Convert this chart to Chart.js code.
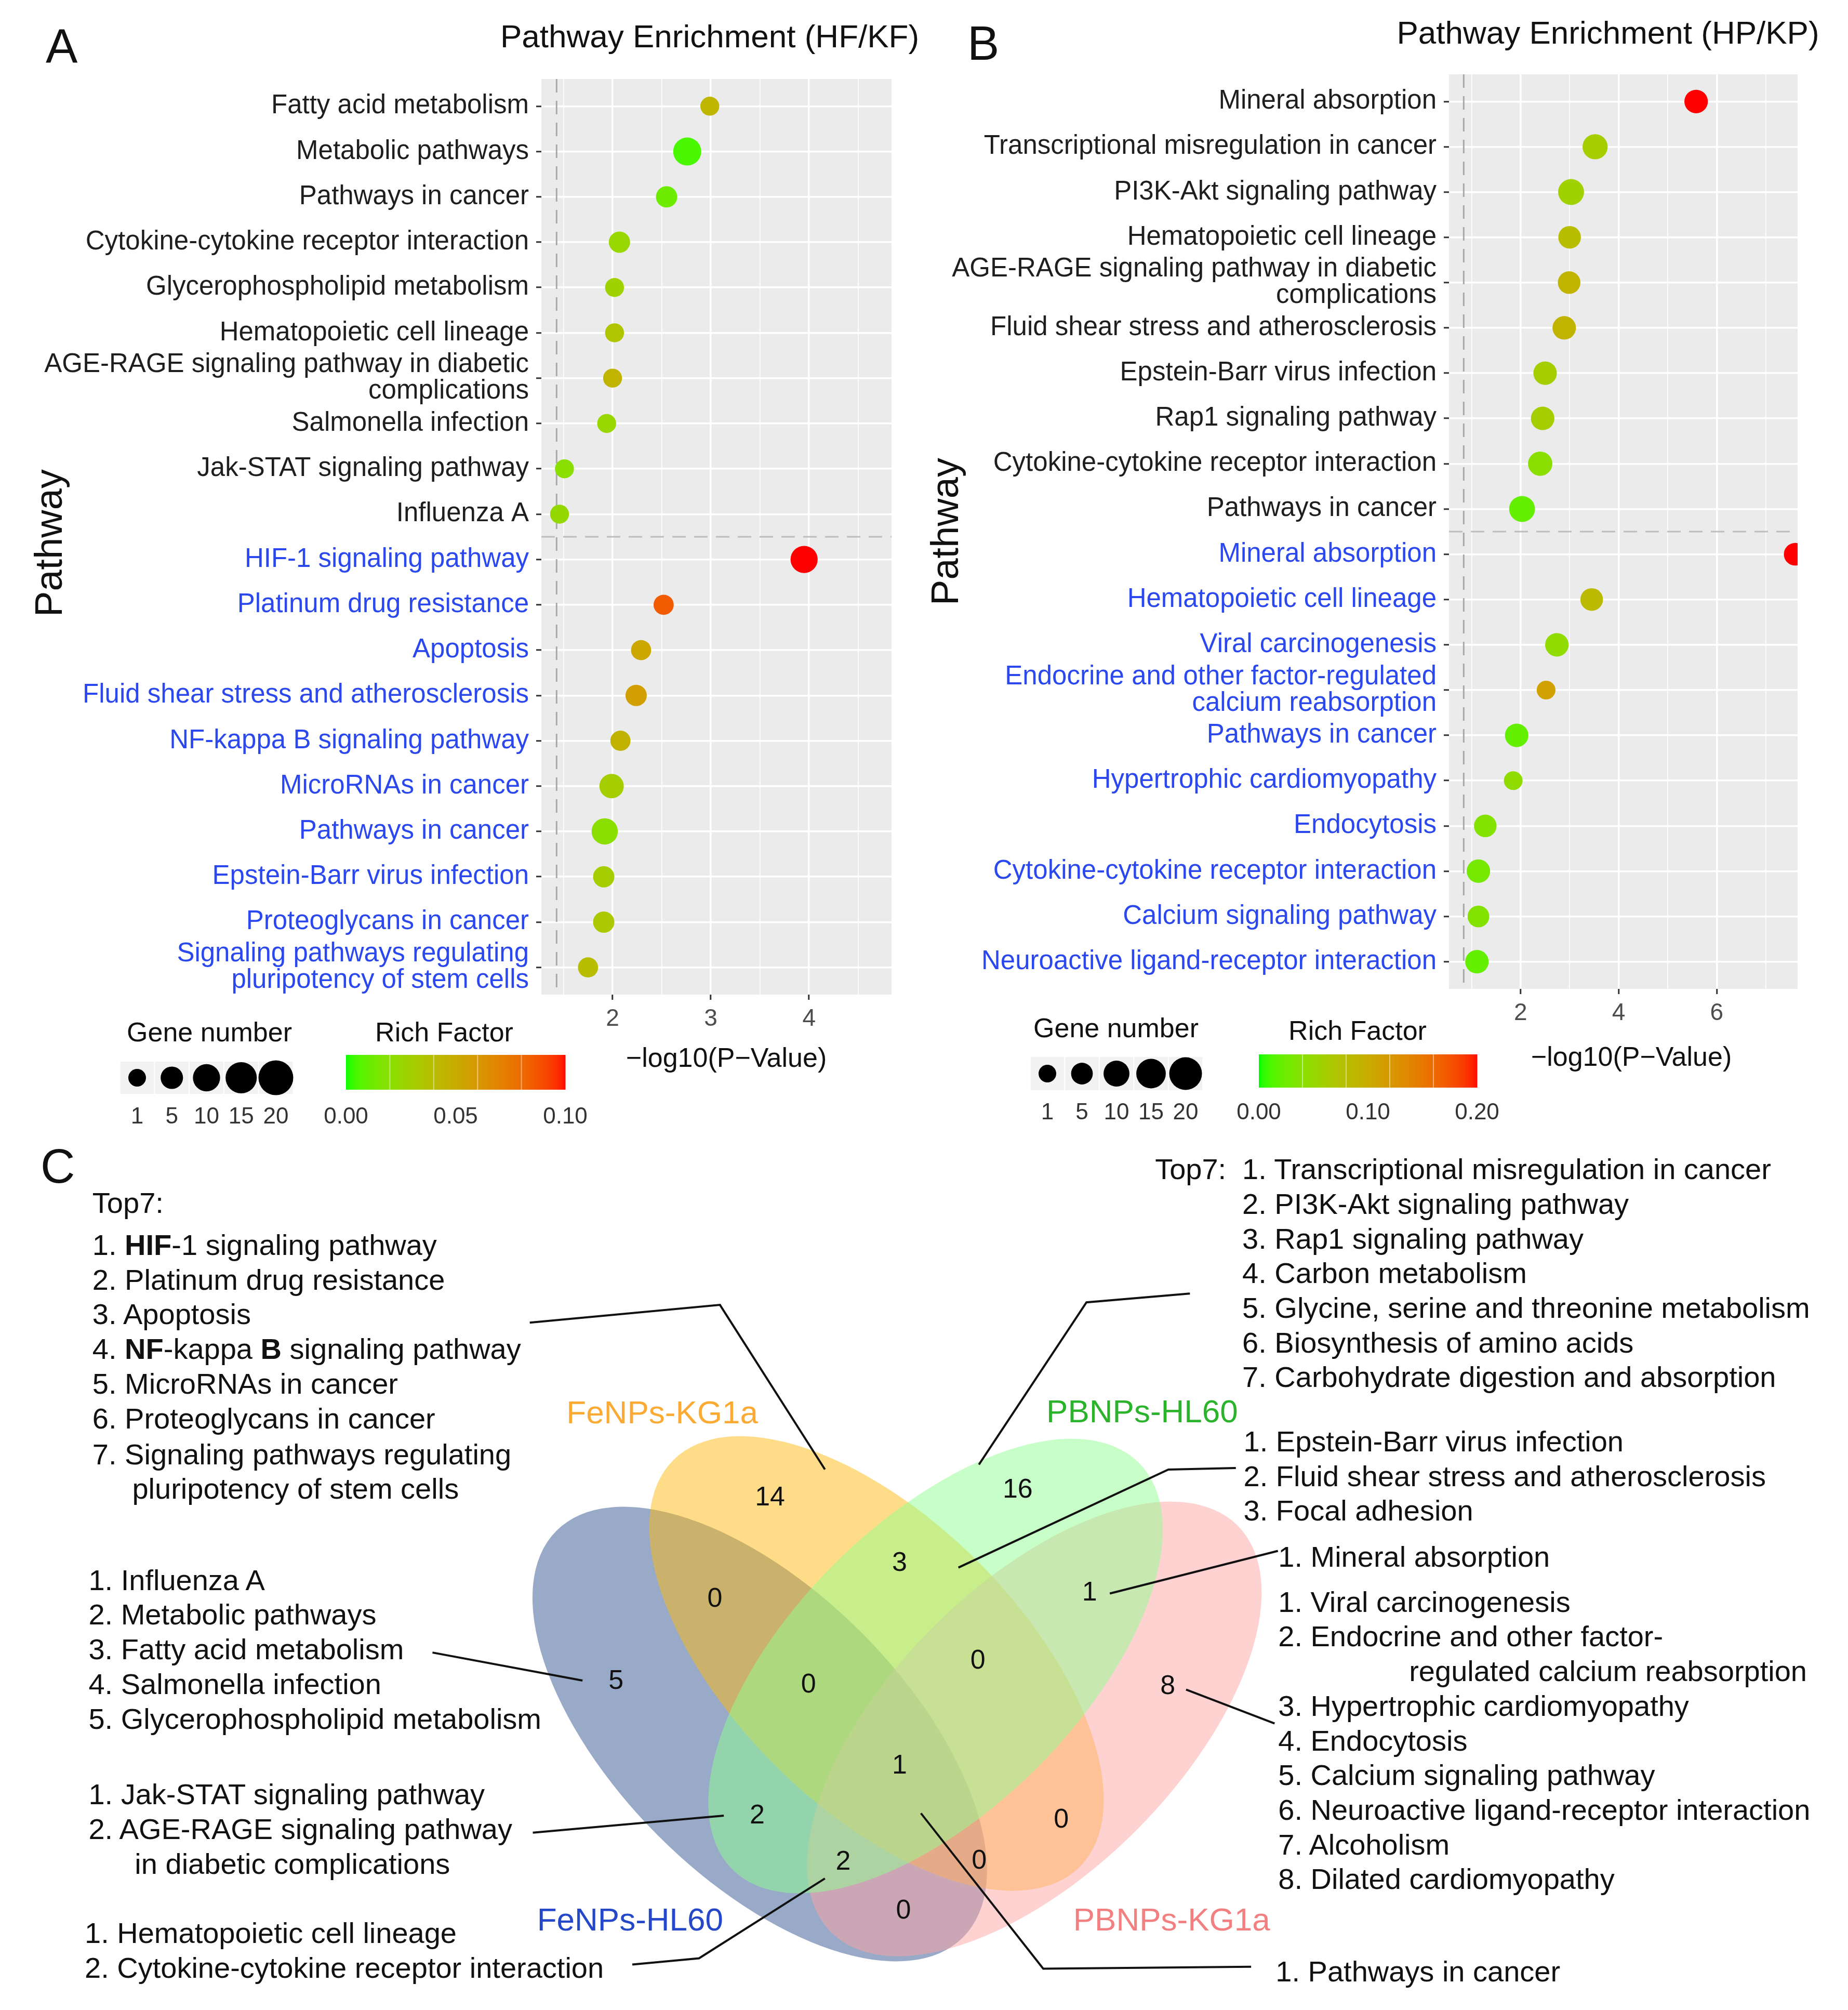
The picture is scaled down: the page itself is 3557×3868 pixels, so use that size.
<!DOCTYPE html>
<html>
<head>
<meta charset="utf-8">
<script src="https://cdn.jsdelivr.net/npm/chart.js@4.4.1/dist/chart.umd.min.js"></script>
<style>
  html, body { margin: 0; padding: 0; background: #fff; }
  body { width: 3557px; height: 3868px; position: relative; overflow: hidden;
         font-family: 'Liberation Sans', Arial, sans-serif; }
  canvas { position: absolute; }
  .letter { position: absolute; font-size: 92px; line-height: 1; color: #111; }
  .txt { position: absolute; font-size: 56px; line-height: 1; white-space: nowrap; color: #111;
         transform: translateY(-50%); }
</style>
</head>
<body>
<canvas id="chartA" width="1780" height="2200" style="left:0;top:0"></canvas>
<canvas id="chartB" width="1777" height="2200" style="left:1780px;top:0"></canvas>
<canvas id="venn" width="3557" height="1719" style="left:0;top:2149px"></canvas>
<div class="letter" style="left:88px;top:43px">A</div>
<div class="letter" style="left:1862px;top:37px">B</div>
<div class="letter" style="left:78px;top:2198px">C</div>
<script>
// ---- panel A data (HF/KF) ----
var pathwaysA = [
    'Fatty acid metabolism', 'Metabolic pathways', 'Pathways in cancer',
    'Cytokine-cytokine receptor interaction', 'Glycerophospholipid metabolism',
    'Hematopoietic cell lineage', ['AGE-RAGE signaling pathway in diabetic', 'complications'],
    'Salmonella infection', 'Jak-STAT signaling pathway', 'Influenza A',
    'HIF-1 signaling pathway', 'Platinum drug resistance', 'Apoptosis',
    'Fluid shear stress and atherosclerosis', 'NF-kappa B signaling pathway',
    'MicroRNAs in cancer', 'Pathways in cancer', 'Epstein-Barr virus infection',
    'Proteoglycans in cancer', ['Signaling pathways regulating', 'pluripotency of stem cells']
];
var logPA  = [2.99, 2.76, 2.55, 2.07, 2.02, 2.02, 2.00, 1.94, 1.51, 1.46,
              3.95, 2.52, 2.29, 2.24, 2.08, 1.99, 1.92, 1.91, 1.91, 1.75];
var genesA = [2, 11, 4, 4, 2, 2, 2, 2, 2, 2, 10, 3, 3, 4, 3, 7, 9, 4, 4, 3];
var richA  = [0.044, 0.005, 0.012, 0.025, 0.028, 0.036, 0.045, 0.025, 0.020, 0.024,
              0.100, 0.085, 0.052, 0.056, 0.046, 0.030, 0.020, 0.030, 0.034, 0.040];
var richTicksA = ['0.00', '0.05', '0.10'];

// ---- panel B data (HP/KP) ----
var pathwaysB = [
    'Mineral absorption', 'Transcriptional misregulation in cancer', 'PI3K-Akt signaling pathway',
    'Hematopoietic cell lineage', ['AGE-RAGE signaling pathway in diabetic', 'complications'],
    'Fluid shear stress and atherosclerosis', 'Epstein-Barr virus infection', 'Rap1 signaling pathway',
    'Cytokine-cytokine receptor interaction', 'Pathways in cancer',
    'Mineral absorption', 'Hematopoietic cell lineage', 'Viral carcinogenesis',
    ['Endocrine and other factor-regulated', 'calcium reabsorption'], 'Pathways in cancer',
    'Hypertrophic cardiomyopathy', 'Endocytosis', 'Cytokine-cytokine receptor interaction',
    'Calcium signaling pathway', 'Neuroactive ligand-receptor interaction'
];
var logPB  = [5.58, 3.52, 3.03, 3.00, 2.99, 2.89, 2.50, 2.45, 2.40, 2.03,
              7.60, 3.45, 2.74, 2.52, 1.92, 1.85, 1.28, 1.14, 1.14, 1.11];
var genesB = [7, 9, 10, 6, 6, 7, 7, 7, 8, 10, 6, 6, 7, 2, 7, 2, 6, 7, 5, 7];
var richB  = [0.200, 0.060, 0.056, 0.080, 0.090, 0.090, 0.060, 0.060, 0.040, 0.020,
              0.200, 0.084, 0.044, 0.110, 0.020, 0.044, 0.036, 0.028, 0.036, 0.020];
var richTicksB = ['0.00', '0.10', '0.20'];

var geneLegend = [1, 5, 10, 15, 20];

// ---- panel C data (Venn) ----
var vennSets   = ['FeNPs-HL60', 'FeNPs-KG1a', 'PBNPs-KG1a', 'PBNPs-HL60'];
var vennCounts = [14, 16, 0, 3, 1, 5, 0, 0, 8, 1, 2, 0, 2, 0, 0];

Chart.defaults.font.family = "'Liberation Sans', Arial, sans-serif";
var FONT = "'Liberation Sans', Arial, sans-serif";
var BLUE = '#2a48ee';
var DARK = '#1e1e1e';

// ggplot-like green -> red gradient interpolated in Lab
function toLab(hex) {
    var rgb = [1, 3, 5].map(function(i) {
        var c = parseInt(hex.substr(i, 2), 16) / 255;
        return c <= 0.04045 ? c / 12.92 : Math.pow((c + 0.055) / 1.055, 2.4);
    });
    var X = (0.4124*rgb[0] + 0.3576*rgb[1] + 0.1805*rgb[2]) / 0.95047;
    var Y = (0.2126*rgb[0] + 0.7152*rgb[1] + 0.0722*rgb[2]);
    var Z = (0.0193*rgb[0] + 0.1192*rgb[1] + 0.9505*rgb[2]) / 1.08883;
    var f = function(t) { return t > 0.008856 ? Math.cbrt(t) : 7.787*t + 16/116; };
    return [116*f(Y) - 16, 500*(f(X) - f(Y)), 200*(f(Y) - f(Z))];
}
function fromLab(lab) {
    var fy = (lab[0] + 16) / 116, fx = fy + lab[1] / 500, fz = fy - lab[2] / 200;
    var inv = function(t) { return t*t*t > 0.008856 ? t*t*t : (t - 16/116) / 7.787; };
    var X = 0.95047*inv(fx), Y = inv(fy), Z = 1.08883*inv(fz);
    var lin = [3.2406*X - 1.5372*Y - 0.4986*Z, -0.9689*X + 1.8758*Y + 0.0415*Z, 0.0557*X - 0.2040*Y + 1.0570*Z];
    var c = lin.map(function(v) {
        v = Math.max(0, Math.min(1, v));
        return Math.round(255 * (v <= 0.0031308 ? 12.92*v : 1.055*Math.pow(v, 1/2.4) - 0.055));
    });
    return 'rgb(' + c[0] + ',' + c[1] + ',' + c[2] + ')';
}
var labLow = toLab('#00ff00'), labHigh = toLab('#ff0000');
function richColor(t) {
    t = Math.max(0, Math.min(1, t));
    return fromLab([0, 1, 2].map(function(k) { return labLow[k] + (labHigh[k] - labLow[k]) * t; }));
}

// area scale for gene number (diameter for 1 and 20 genes)
function geneRadius(n, range) {
    var b = (range[1]*range[1] - range[0]*range[0]) / 19;
    return Math.sqrt(range[0]*range[0] + b*(n - 1)) / 2;
}

function drawText(ctx, s, x, y, size, color, align) {
    ctx.font = size + 'px ' + FONT;
    ctx.fillStyle = color;
    ctx.textAlign = align || 'center';
    ctx.textBaseline = 'middle';
    ctx.fillText(s, x, y);
}

function decorFor(p) {
    var L = p.lay;
    return {
        id: 'decor' + p.id,
        beforeDraw: function(chart) {
            var a = chart.chartArea, ctx = chart.ctx;
            ctx.save();
            ctx.fillStyle = '#ebebeb';
            ctx.fillRect(a.left, a.top, a.right - a.left, a.bottom - a.top);
            ctx.restore();
        },
        beforeDatasetsDraw: function(chart) {
            var a = chart.chartArea, ctx = chart.ctx;
            var xs = chart.scales.x, ys = chart.scales.y;
            ctx.save();
            ctx.setLineDash([26, 16]);
            ctx.lineWidth = 3;
            ctx.strokeStyle = '#a8a8a8';
            var cx = xs.getPixelForValue(p.cutoff);
            ctx.beginPath(); ctx.moveTo(cx, a.top); ctx.lineTo(cx, a.bottom); ctx.stroke();
            ctx.strokeStyle = '#bdbdbd';
            var cy = ys.getPixelForValue(p.split - 0.5);
            ctx.beginPath(); ctx.moveTo(a.left, cy); ctx.lineTo(a.right, cy); ctx.stroke();
            ctx.restore();
        },
        afterDraw: function(chart) {
            var ctx = chart.ctx;
            ctx.save();
            drawText(ctx, p.title, L.title[0], L.title[1], 62, '#111');
            drawText(ctx, '\u2212log10(P\u2212Value)', L.xTitle[0], L.xTitle[1], 52, '#111');
            ctx.save();
            ctx.translate(L.yTitle[0], L.yTitle[1]);
            ctx.rotate(-Math.PI / 2);
            drawText(ctx, 'Pathway', 0, 0, 74, '#111');
            ctx.restore();

            // gene number legend
            drawText(ctx, 'Gene number', L.geneTitle[0], L.geneTitle[1], 52, '#111');
            for (var k = 0; k < geneLegend.length; k++) {
                var kx = L.keyX0 + k * L.keyStep;
                ctx.fillStyle = '#f2f2f2';
                ctx.fillRect(kx + 1, L.keyTop, L.keyStep - 2, L.keyH);
                ctx.fillStyle = '#000';
                ctx.beginPath();
                ctx.arc(kx + L.keyStep / 2, L.keyTop + L.keyH / 2, geneRadius(geneLegend[k], p.sizeRange), 0, 2 * Math.PI);
                ctx.fill();
                drawText(ctx, String(geneLegend[k]), kx + L.keyStep / 2, L.labelY, 44, '#333');
            }

            // rich factor colour bar
            drawText(ctx, 'Rich Factor', L.richTitle[0], L.richTitle[1], 52, '#111');
            var w = L.bar[1] - L.bar[0];
            for (var i = 0; i < w; i += 2) {
                ctx.fillStyle = richColor(i / w);
                ctx.fillRect(L.bar[0] + i, L.bar[2], 2.5, L.bar[3] - L.bar[2]);
            }
            ctx.strokeStyle = 'rgba(255,255,255,0.45)';
            ctx.lineWidth = 2;
            for (var j = 1; j < 5; j++) {
                var bx = L.bar[0] + w * j / 5;
                ctx.beginPath(); ctx.moveTo(bx, L.bar[2]); ctx.lineTo(bx, L.bar[3]); ctx.stroke();
            }
            for (var m = 0; m < p.richTicks.length; m++) {
                drawText(ctx, p.richTicks[m], L.bar[0] + w * m / (p.richTicks.length - 1), L.labelY, 44, '#333');
            }
            ctx.restore();
        }
    };
}

function makeEnrichmentChart(p) {
    var points = p.logP.map(function(x, i) {
        return { x: x, y: i, r: geneRadius(p.genes[i], p.sizeRange), rich: p.rich[i] };
    });
    var canvas = document.getElementById(p.id);
    return new Chart(canvas, {
        type: 'bubble',
        data: {
            datasets: [{
                data: points,
                backgroundColor: function(c) { return c.raw ? richColor(c.raw.rich / p.richMax) : '#000'; },
                borderWidth: 0,
                clip: 0
            }]
        },
        options: {
            responsive: false, animation: false, devicePixelRatio: 1, events: [],
            layout: { padding: { left: 0, top: p.box.top, right: canvas.width - p.box.right, bottom: 0 } },
            plugins: { legend: { display: false }, tooltip: { enabled: false } },
            scales: {
                x: {
                    type: 'linear', min: p.xMin, max: p.xMax,
                    afterBuildTicks: function(s) {
                        s.ticks = p.xTicks.map(function(v) { return { value: v }; });
                    },
                    ticks: {
                        autoSkip: false, maxRotation: 0, padding: 10, color: '#4d4d4d', font: { size: 46 },
                        callback: function(v) { return p.xMajor.indexOf(v) >= 0 ? String(v) : ''; }
                    },
                    grid: {
                        color: '#ffffff',
                        lineWidth: function(c) { return c.tick && p.xMajor.indexOf(c.tick.value) >= 0 ? 3.5 : 1.6; },
                        tickColor: function(c) { return c.tick && p.xMajor.indexOf(c.tick.value) >= 0 ? '#333' : 'rgba(0,0,0,0)'; },
                        tickLength: 10, tickWidth: 3
                    },
                    border: { display: false },
                    afterFit: function(s) { s.height = canvas.height - p.box.bottom; }
                },
                y: {
                    type: 'linear', min: -0.6, max: p.labels.length - 0.4, reverse: true,
                    afterBuildTicks: function(s) {
                        s.ticks = p.labels.map(function(_, i) { return { value: i }; });
                    },
                    ticks: {
                        autoSkip: false, padding: 14,
                        font: { size: 51, lineHeight: 1.0 },
                        color: function(c) { return c.index >= p.split ? BLUE : DARK; },
                        callback: function(v, i) { return p.labels[i]; }
                    },
                    grid: { color: '#ffffff', lineWidth: 3.5, tickColor: '#333', tickLength: 10, tickWidth: 3 },
                    border: { display: false },
                    afterFit: function(s) { s.width = p.box.left; }
                }
            }
        },
        plugins: [decorFor(p)]
    });
}

makeEnrichmentChart({
    id: 'chartA', title: 'Pathway Enrichment (HF/KF)',
    labels: pathwaysA, logP: logPA, genes: genesA, rich: richA, richMax: 0.10, richTicks: richTicksA,
    xMin: 1.275, xMax: 4.84, xTicks: [1.5, 2, 2.5, 3, 3.5, 4, 4.5], xMajor: [2, 3, 4],
    cutoff: 1.43, split: 10, sizeRange: [34, 67],
    box: { left: 1042, right: 1716, top: 152, bottom: 1914 },
    lay: {
        title: [1366, 74], xTitle: [1398, 2039], yTitle: [99, 1045],
        geneTitle: [403, 1990], keyX0: 230.6, keyStep: 66.75, keyTop: 2043, keyH: 62, labelY: 2150,
        richTitle: [855, 1990], bar: [666, 1088, 2030, 2097]
    }
});

makeEnrichmentChart({
    id: 'chartB', title: 'Pathway Enrichment (HP/KP)',
    labels: pathwaysB, logP: logPB, genes: genesB, rich: richB, richMax: 0.20, richTicks: richTicksB,
    xMin: 0.54, xMax: 7.65, xTicks: [1, 2, 3, 4, 5, 6, 7], xMajor: [2, 4, 6],
    cutoff: 0.84, split: 10, sizeRange: [34, 63],
    box: { left: 1009, right: 1680, top: 143, bottom: 1903 },
    lay: {
        title: [1315, 67], xTitle: [1360, 2037], yTitle: [44, 1023],
        geneTitle: [368, 1982], keyX0: 202.75, keyStep: 66.5, keyTop: 2034, keyH: 64, labelY: 2142,
        richTitle: [833, 1987], bar: [643, 1063, 2029, 2093]
    }
});

// ---- panel C: Venn diagram (layout in 1440-wide figure units) ----
var S = 3557 / 1440;
var vennEllipses = [
    { cx: 592, cy: 1351, a: 224, b: 112, rot: 45,  fill: 'rgba(49,85,145,0.5)' },
    { cx: 683, cy: 1296, a: 224, b: 112, rot: 45,  fill: 'rgba(255,187,17,0.5)' },
    { cx: 806, cy: 1347, a: 224, b: 112, rot: -45, fill: 'rgba(255,165,165,0.5)' },
    { cx: 729, cy: 1298, a: 224, b: 112, rot: -45, fill: 'rgba(145,255,145,0.5)' }
];
var vennSetLabels = [
    { x: 491, y: 1497, color: '#2448c8' },
    { x: 516, y: 1102, color: '#fbaa33' },
    { x: 913, y: 1497, color: '#f28080' },
    { x: 890, y: 1101, color: '#2cb32c' }
];
var vennCountPos = [[600, 1167], [793, 1161], [557, 1246], [701, 1218], [849, 1241],
                    [480, 1310], [630, 1313], [762, 1294], [910, 1314], [701, 1376],
                    [590, 1415], [827, 1418], [657, 1451], [763, 1450], [704, 1489]];
var leaderLines = [
    [[412.8, 1030.4], [561, 1016.6], [642.8, 1144.8]],
    [[927.2, 1007.8], [846.6, 1014.6], [762.8, 1141]],
    [[963, 1143.7], [910.4, 1144.9], [746.8, 1221.3]],
    [[995.8, 1208.3], [864.8, 1241.5]],
    [[924.2, 1316.3], [993.2, 1342.8]],
    [[337, 1287.5], [453.9, 1309.3]],
    [[415.2, 1427.8], [564, 1414.6]],
    [[492.7, 1530.6], [544.7, 1525.7], [642.8, 1463.5]],
    [[717.6, 1412.7], [812.9, 1533.8], [974.9, 1532.3]]
];

var vennDecor = {
    id: 'vennDecor',
    beforeDatasetsDraw: function(chart) {
        var ctx = chart.ctx, xs = chart.scales.x, ys = chart.scales.y;
        var k = xs.getPixelForValue(1) - xs.getPixelForValue(0);
        ctx.save();
        vennEllipses.forEach(function(e) {
            ctx.fillStyle = e.fill;
            ctx.beginPath();
            ctx.ellipse(xs.getPixelForValue(e.cx), ys.getPixelForValue(e.cy), e.a * k, e.b * k,
                        e.rot * Math.PI / 180, 0, 2 * Math.PI);
            ctx.fill();
        });
        vennSets.forEach(function(name, i) {
            var l = vennSetLabels[i];
            drawText(ctx, name, xs.getPixelForValue(l.x), ys.getPixelForValue(l.y), 62, l.color);
        });
        ctx.restore();
    },
    afterDatasetsDraw: function(chart) {
        var ctx = chart.ctx;
        var meta = chart.getDatasetMeta(chart.data.datasets.length - 1);
        ctx.save();
        meta.data.forEach(function(pt, i) {
            drawText(ctx, String(vennCounts[i]), pt.x, pt.y, 52, '#111');
        });
        ctx.restore();
    }
};

var vennDatasets = leaderLines.map(function(pts) {
    return {
        type: 'line', showLine: true, fill: false, tension: 0,
        data: pts.map(function(q) { return { x: q[0], y: q[1] }; }),
        borderColor: '#111', borderWidth: 4, pointRadius: 0
    };
});
vennDatasets.push({ data: vennCountPos.map(function(q) { return { x: q[0], y: q[1] }; }), pointRadius: 0 });

new Chart(document.getElementById('venn'), {
    type: 'scatter',
    data: { datasets: vennDatasets },
    options: {
        responsive: false, animation: false, devicePixelRatio: 1, events: [],
        layout: { padding: 0 },
        plugins: { legend: { display: false }, tooltip: { enabled: false } },
        scales: {
            x: { type: 'linear', min: 0, max: 1440, display: false },
            y: { type: 'linear', min: 870, max: 1566, reverse: true, display: false }
        }
    },
    plugins: [vennDecor]
});

// ---- panel C text lists ----
var vennTextLines = [
    [72, 937, 'Top7:'],
    [72, 970, '1. <b>HIF</b>-1 signaling pathway'],
    [72, 997, '2. Platinum drug resistance'],
    [72, 1024, '3. Apoptosis'],
    [72, 1051, '4. <b>NF</b>-kappa <b>B</b> signaling pathway'],
    [72, 1078, '5. MicroRNAs in cancer'],
    [72, 1105, '6. Proteoglycans in cancer'],
    [72, 1133, '7. Signaling pathways regulating'],
    [103, 1160, 'pluripotency of stem cells'],
    [69, 1231, '1. Influenza A'],
    [69, 1258, '2. Metabolic pathways'],
    [69, 1285, '3. Fatty acid metabolism'],
    [69, 1312, '4. Salmonella infection'],
    [69, 1339, '5. Glycerophospholipid metabolism'],
    [69, 1398, '1. Jak-STAT signaling pathway'],
    [69, 1425, '2. AGE-RAGE signaling pathway'],
    [105, 1452, 'in diabetic complications'],
    [66, 1506, '1. Hematopoietic cell lineage'],
    [66, 1533, '2. Cytokine-cytokine receptor interaction'],
    [900, 911, 'Top7:'],
    [968, 911, '1. Transcriptional misregulation in cancer'],
    [968, 938, '2. PI3K-Akt signaling pathway'],
    [968, 965, '3. Rap1 signaling pathway'],
    [968, 992, '4. Carbon metabolism'],
    [968, 1019, '5. Glycine, serine and threonine metabolism'],
    [968, 1046, '6. Biosynthesis of amino acids'],
    [968, 1073, '7. Carbohydrate digestion and absorption'],
    [969, 1123, '1. Epstein-Barr virus infection'],
    [969, 1150, '2. Fluid shear stress and atherosclerosis'],
    [969, 1177, '3. Focal adhesion'],
    [996, 1213, '1. Mineral absorption'],
    [996, 1248, '1. Viral carcinogenesis'],
    [996, 1275, '2. Endocrine and other factor-'],
    [1098, 1302, 'regulated calcium reabsorption'],
    [996, 1329, '3. Hypertrophic cardiomyopathy'],
    [996, 1356, '4. Endocytosis'],
    [996, 1383, '5. Calcium signaling pathway'],
    [996, 1410, '6. Neuroactive ligand-receptor interaction'],
    [996, 1437, '7. Alcoholism'],
    [996, 1464, '8. Dilated cardiomyopathy'],
    [994, 1536, '1. Pathways in cancer']
];
vennTextLines.forEach(function(t) {
    var d = document.createElement('div');
    d.className = 'txt';
    d.style.left = (t[0] * S) + 'px';
    d.style.top = (t[1] * S) + 'px';
    d.innerHTML = t[2];
    document.body.appendChild(d);
});
</script>
</body>
</html>
